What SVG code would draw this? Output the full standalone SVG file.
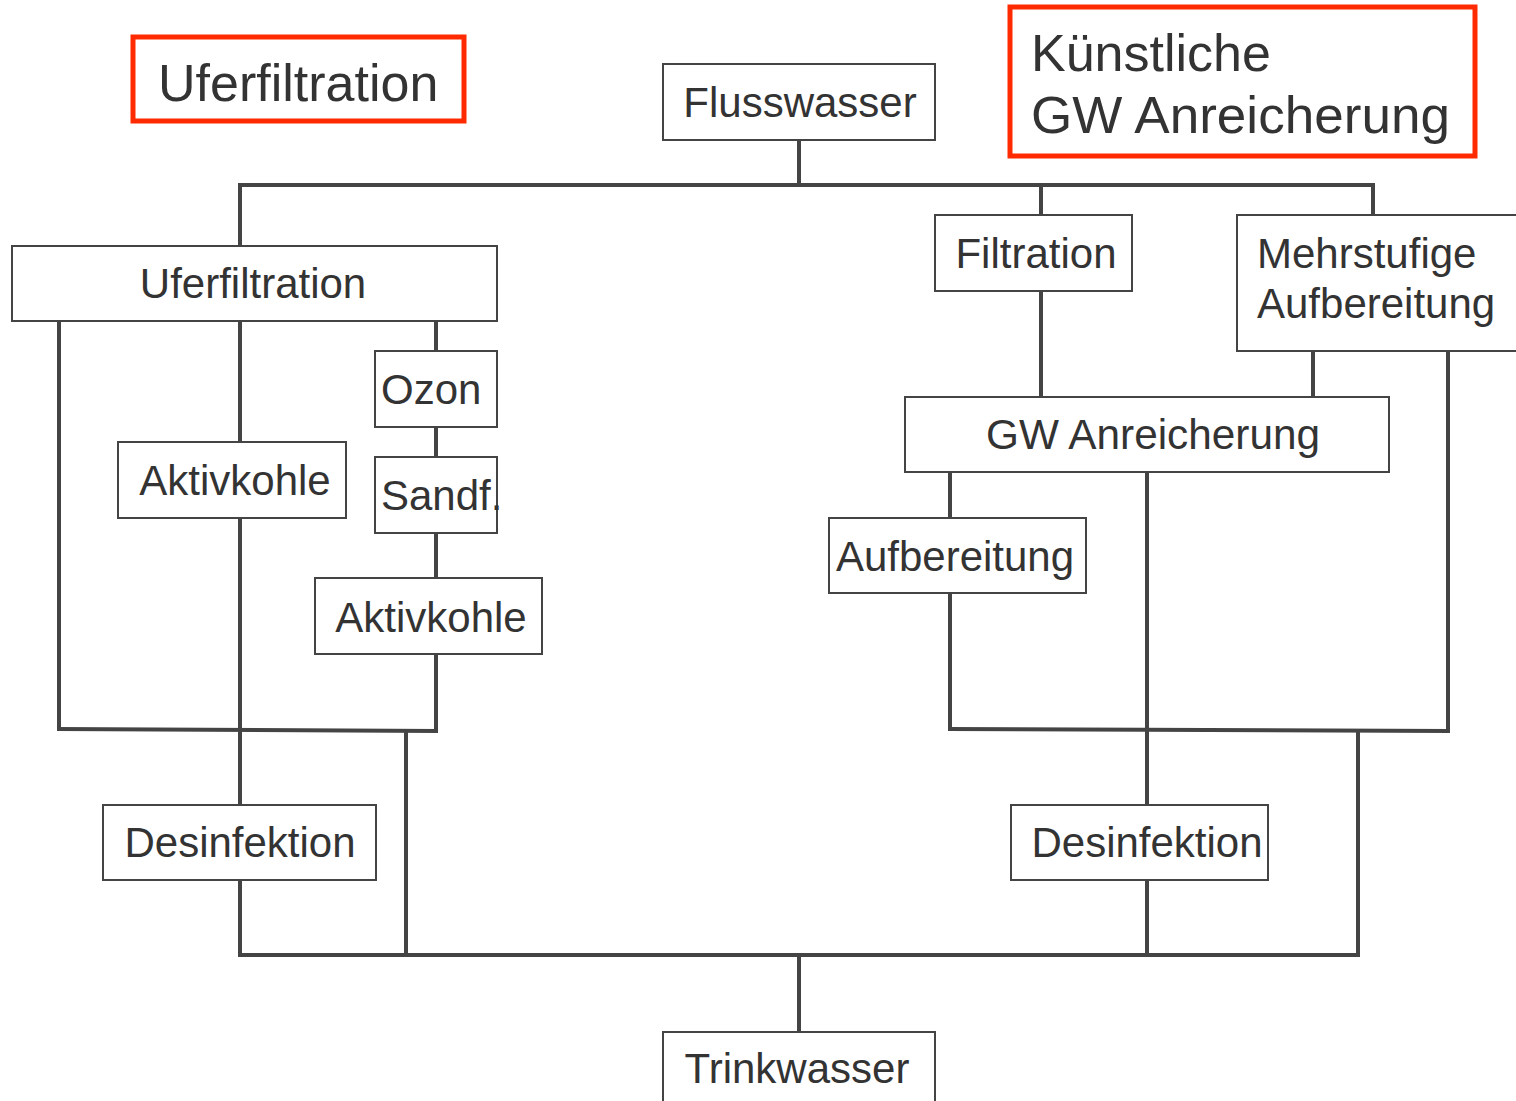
<svg xmlns="http://www.w3.org/2000/svg" width="1516" height="1101" viewBox="0 0 1516 1101">
<style>
text{font-family:"Liberation Sans",Arial,sans-serif;fill:#333;font-size:42px}
.box{fill:#fff;stroke:#444;stroke-width:2}
.red{fill:none;stroke:#ff2a00;stroke-width:5}
.c{text-anchor:middle}
.big{font-size:52px}
#connectors line,#connectors polyline{stroke:#444;stroke-width:4;fill:none}
</style>
<rect width="1516" height="1101" fill="#fff"/>
<g id="connectors">
<line x1="799" y1="140" x2="799" y2="185"/>
<line x1="238" y1="185" x2="1375" y2="185"/>
<line x1="240" y1="185" x2="240" y2="246"/>
<line x1="59" y1="321" x2="59" y2="729"/>
<line x1="240" y1="321" x2="240" y2="442"/>
<line x1="240" y1="518" x2="240" y2="805"/>
<line x1="240" y1="880" x2="240" y2="955"/>
<line x1="436" y1="321" x2="436" y2="351"/>
<line x1="436" y1="427" x2="436" y2="458"/>
<line x1="436" y1="533" x2="436" y2="578"/>
<line x1="436" y1="654" x2="436" y2="732"/>
<line x1="57" y1="729" x2="438" y2="731"/>
<line x1="406" y1="731" x2="406" y2="955"/>
<line x1="238" y1="955" x2="1360" y2="955"/>
<line x1="799" y1="955" x2="799" y2="1032"/>
<line x1="1041" y1="185" x2="1041" y2="215"/>
<line x1="1373" y1="183" x2="1373" y2="215"/>
<line x1="1041" y1="291" x2="1041" y2="397"/>
<line x1="1313" y1="351" x2="1313" y2="397"/>
<line x1="1448" y1="351" x2="1448" y2="733"/>
<line x1="950" y1="472" x2="950" y2="518"/>
<line x1="950" y1="593" x2="950" y2="731"/>
<line x1="1147" y1="472" x2="1147" y2="805"/>
<line x1="1147" y1="880" x2="1147" y2="955"/>
<line x1="948" y1="729" x2="1450" y2="731"/>
<line x1="1358" y1="731" x2="1358" y2="957"/>
</g>
<g id="title-uferfiltration"><rect class="red" x="133" y="37" width="331" height="84"/><text class="big" x="158" y="101">Uferfiltration</text></g>
<g id="title-kuenstliche"><rect class="red" x="1010" y="7" width="465" height="149"/><text class="big" x="1031" y="71">Künstliche</text><text class="big" x="1031" y="133" textLength="419" lengthAdjust="spacingAndGlyphs">GW Anreicherung</text></g>
<g id="flusswasser"><rect class="box" x="663" y="64" width="272" height="76"/><text class="c" x="800" y="117">Flusswasser</text></g>
<g id="uferfiltration"><rect class="box" x="12" y="246" width="485" height="75"/><text class="c" x="253" y="298">Uferfiltration</text></g>
<g id="ozon"><rect class="box" x="375" y="351" width="122" height="76"/><text x="381" y="404">Ozon</text></g>
<g id="sandf"><rect class="box" x="375" y="457" width="122" height="76"/><text x="381" y="510">Sandf.</text></g>
<g id="aktivkohle-1"><rect class="box" x="118" y="442" width="228" height="76"/><text class="c" x="235" y="495">Aktivkohle</text></g>
<g id="aktivkohle-2"><rect class="box" x="315" y="578" width="227" height="76"/><text class="c" x="431" y="632">Aktivkohle</text></g>
<g id="desinfektion-1"><rect class="box" x="103" y="805" width="273" height="75"/><text class="c" x="240" y="857">Desinfektion</text></g>
<g id="filtration"><rect class="box" x="935" y="215" width="197" height="76"/><text class="c" x="1036" y="268">Filtration</text></g>
<g id="mehrstufige"><rect class="box" x="1237" y="215" width="290" height="136"/><text x="1257" y="268">Mehrstufige</text><text x="1257" y="318">Aufbereitung</text></g>
<g id="gw-anreicherung"><rect class="box" x="905" y="397" width="484" height="75"/><text class="c" x="1153" y="449" textLength="334" lengthAdjust="spacingAndGlyphs">GW Anreicherung</text></g>
<g id="aufbereitung"><rect class="box" x="829" y="518" width="257" height="75"/><text class="c" x="955" y="571">Aufbereitung</text></g>
<g id="desinfektion-2"><rect class="box" x="1011" y="805" width="257" height="75"/><text class="c" x="1147" y="857">Desinfektion</text></g>
<g id="trinkwasser"><rect class="box" x="663" y="1032" width="272" height="80"/><text class="c" x="797" y="1083">Trinkwasser</text></g>
</svg>
